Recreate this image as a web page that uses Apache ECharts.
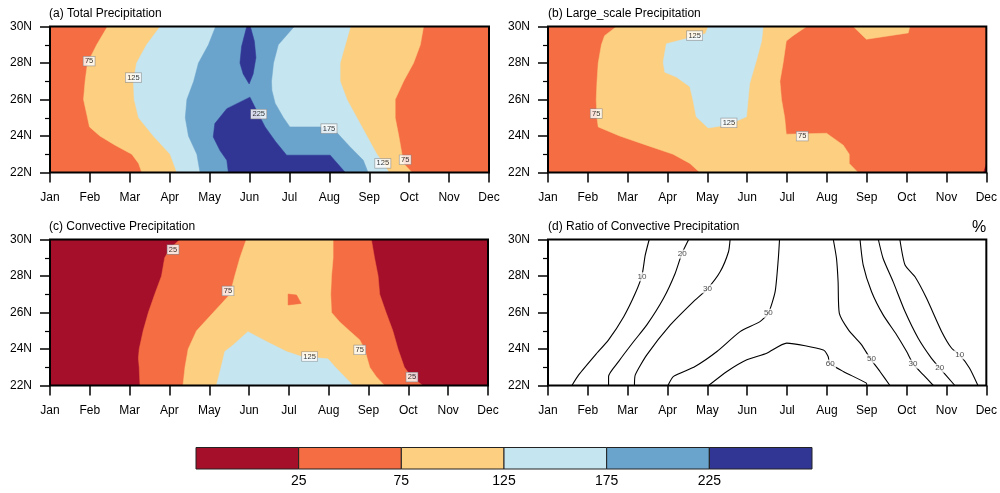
<!DOCTYPE html>
<html>
<head>
<meta charset="utf-8">
<script src="https://cdn.jsdelivr.net/npm/echarts@6/dist/echarts.min.js"></script>
<style>
  html, body { margin: 0; padding: 0; background: #fff; }
  #chart { width: 1000px; height: 493px; }
</style>
</head>
<body>
<div id="chart"></div>
<script>
const months = ['Jan', 'Feb', 'Mar', 'Apr', 'May', 'Jun', 'Jul', 'Aug', 'Sep', 'Oct', 'Nov', 'Dec'];
const levels = [25, 75, 125, 175, 225];
const palette = ['#a50f2a', '#f46d43', '#fdcf80', '#c5e5f0', '#6aa3cb', '#313695'];

// contour boundaries, [month index, latitude] (top -> bottom)
// (a) total precipitation
const a75L = [[1.44,30],[1.17,29],[0.94,28],[0.88,27],[0.84,26],[0.94,25],[0.99,24.5],[1.25,24],[1.63,23.5],[2.05,23],[2.22,22.5],[2.30,22]];
const a75R = [[9.36,30],[9.28,29],[9.11,28],[8.86,27],[8.65,26],[8.65,25],[8.74,24],[8.82,23],[8.86,22.5],[9.07,22]];
const a125L = [[2.76,30],[2.42,29],[2.17,28],[2.09,27],[2.11,26],[2.22,25],[2.59,24],[3.01,23],[3.18,22]];
const a125R = [[7.53,30],[7.40,29],[7.27,28],[7.27,27],[7.44,26],[7.69,25],[7.94,24],[8.19,23],[8.36,22.5],[8.49,22]];
const a175L = [[4.15,30],[3.97,29],[3.72,28],[3.60,27],[3.43,26],[3.39,25],[3.47,24],[3.68,23],[3.76,22]];
const a175R = [[6.12,30],[5.72,29],[5.6,28],[5.55,27],[5.56,26.5],[5.64,25.8],[5.85,25],[6.01,24.5],[6.76,24.5],[7.14,24.3],[7.52,23.4],[7.85,22.67],[7.97,22]];
const a225Top = [[4.93,30],[5.02,30],[5.12,29.2],[5.16,28.3],[5.09,27.4],[4.99,26.85],[4.84,27.4],[4.76,28],[4.8,28.9]];
const a225Bot = [[5.01,26.13],[5.2,25.3],[5.39,24.5],[5.65,23.7],[5.93,22.95],[7.02,22.95],[7.4,22],[4.47,22],[4.43,22.67],[4.26,23.2],[4.09,23.95],[4.13,24.68],[4.43,25.5]];
const aLabels = [[0.98,28.1,'75'],[2.09,27.2,'125'],[5.23,25.2,'225'],[6.99,24.4,'175'],[8.34,22.5,'125'],[8.9,22.7,'75']];

// (b) large-scale precipitation
const b75L = [[1.72,30],[1.42,29.5],[1.34,29],[1.26,28],[1.23,27],[1.21,26],[1.23,25],[1.26,24.5],[1.80,24],[2.47,23.5],[3.14,23],[3.56,22.5],[3.81,22]];
const b75R = [[6.49,30],[6.15,29.5],[5.98,29.2],[5.9,28],[5.82,27],[5.86,26],[5.94,25],[5.98,24.1],[6.99,24.15],[7.41,23.5],[7.56,23],[7.56,22.5],[7.78,22]];
const b75Top = [[7.66,30],[7.99,29.3],[9.04,29.65],[9.08,30]];
const b125 = [[4.02,30],[3.95,29.6],[2.97,29.05],[2.89,28.05],[2.93,27.5],[3.22,27.23],[3.56,26.7],[3.64,25.96],[3.72,25.05],[4.02,24.44],[4.5,24.6],[4.98,25.05],[5.02,25.96],[5.06,26.87],[5.23,28.14],[5.36,29.2],[5.4,30]];
const b25Dot = [[10.93,22],[11,22],[11,22.45]];
const bLabels = [[3.68,29.5,'125'],[1.21,25.23,'75'],[4.54,24.72,'125'],[6.38,23.99,'75']];

// (c) convective precipitation
const c25L = [[3.26,30],[3.01,29.5],[2.88,29],[2.80,28],[2.63,27],[2.47,26],[2.34,25],[2.24,24],[2.22,23.5],[2.24,23],[2.26,22]];
const c25R = [[8.07,30],[8.15,29],[8.24,28],[8.28,27],[8.44,26],[8.61,25],[8.74,24],[8.9,23],[9.07,22.5],[9.36,22]];
const c75L = [[4.93,30],[4.77,29],[4.64,28],[4.52,27],[4.31,26.5],[4.10,26],[3.68,25],[3.47,24],[3.43,23.5],[3.39,23],[3.34,22]];
const c75R = [[7.11,30],[7.11,29],[7.07,28],[7.05,27],[7.07,26],[7.27,25.5],[7.52,25],[7.78,24.5],[7.9,24],[8.03,23],[8.19,22.5],[8.40,22]];
const c75Hole = [[5.98,27.01],[6.19,26.96],[6.31,26.5],[5.98,26.41]];
const c125 = [[4.18,22],[4.31,23.13],[4.39,23.86],[4.6,24.22],[4.97,24.95],[5.52,24.32],[5.94,23.86],[6.31,23.59],[6.98,23.46],[7.15,23.04],[7.61,22]];
const cLabels = [[3.09,29.45,'25'],[4.47,27.18,'75'],[6.52,23.59,'125'],[7.78,23.95,'75'],[9.09,22.46,'25']];

// (d) ratio of convective precipitation (%), contour lines
const d10L = [[0.6,22],[0.77,22.58],[1.19,23.68],[1.52,24.5],[1.9,25.77],[2.19,27.05],[2.36,28.05],[2.44,29.14],[2.54,30]];
const d20L = [[1.52,22],[1.52,22.5],[1.77,23.31],[2.15,24.41],[2.48,25.32],[2.9,26.78],[3.19,28.14],[3.36,29.23],[3.53,30]];
const d30L = [[2.17,22],[2.19,22.58],[2.48,23.68],[3.07,25.32],[3.65,26.6],[4.0,27.3],[4.32,28.23],[4.53,29.33],[4.57,30]];
const d50L = [[3.01,22],[3.15,22.5],[3.69,23.04],[4.24,23.86],[4.82,24.95],[5.32,25.5],[5.53,25.96],[5.7,27.14],[5.78,28.96],[5.81,30]];
const d60 = [[4.03,22],[4.49,22.77],[4.99,23.41],[5.49,23.77],[5.99,24.32],[6.91,23.95],[7.03,23.59],[7.07,23.22],[7.41,22.77],[7.99,22.13],[8.0,22]];
const d50R = [[7.16,30],[7.24,28.96],[7.28,27.69],[7.31,25.96],[7.54,25.05],[7.87,24.23],[8.08,23.5],[8.33,22.77],[8.58,22]];
const d30R = [[7.83,30],[7.91,28.6],[8.12,27.14],[8.41,25.87],[8.75,24.77],[9.0,23.86],[9.17,23.17],[9.42,22.58],[9.67,22]];
const d20R = [[8.29,30],[8.41,28.96],[8.66,27.69],[8.96,26.05],[9.29,24.59],[9.62,23.5],[9.83,22.95],[10.21,22]];
const d10R = [[8.83,30],[8.96,28.6],[9.21,27.96],[9.5,26.78],[9.88,24.95],[10.13,24.04],[10.33,23.68],[10.58,22.95],[10.79,22]];
const dLabels = [[2.36,27.96,'10'],[3.37,29.2,'20'],[4.0,27.3,'30'],[5.53,25.96,'50'],[7.08,23.17,'60'],[8.12,23.46,'50'],[9.16,23.17,'30'],[9.83,22.95,'20'],[10.33,23.68,'10']];

const FONT = '"Liberation Sans", Arial, Helvetica, sans-serif';

// left boundary (top->bottom) + right boundary (bottom->top)
function band(left, right) {
    return left.concat(right.slice().reverse());
}

function baseSeries(g, color) {
    return {
        type: 'custom', xAxisIndex: g, yAxisIndex: g, silent: true, z: 1,
        data: [0],
        renderItem: function (params) {
            const r = params.coordSys;
            return { type: 'rect', shape: { x: r.x, y: r.y, width: r.width, height: r.height }, style: { fill: color } };
        }
    };
}

function polySeries(g, pts, color) {
    return {
        type: 'custom', xAxisIndex: g, yAxisIndex: g, silent: true, z: 2,
        data: [0],
        renderItem: function (params, api) {
            return {
                type: 'polygon',
                shape: { points: pts.map(function (p) { return api.coord(p); }) },
                style: { fill: color, stroke: color, lineWidth: 0.5 }
            };
        }
    };
}

function lineSeries(g, pts) {
    return {
        type: 'line', xAxisIndex: g, yAxisIndex: g, silent: true, z: 2,
        data: pts, symbol: 'none', smooth: 0.2,
        lineStyle: { color: '#000', width: 1.1 }
    };
}

function labelSeries(g, items, boxed) {
    return {
        type: 'scatter', xAxisIndex: g, yAxisIndex: g, silent: true, z: 4,
        data: items, symbolSize: 0,
        label: {
            show: true, position: 'inside',
            formatter: function (p) { return p.value[2]; },
            fontFamily: FONT, fontSize: boxed ? 7.5 : 8,
            color: boxed ? '#000' : '#222',
            backgroundColor: '#fff',
            borderColor: boxed ? '#888' : 'transparent',
            borderWidth: boxed ? 0.6 : 0,
            padding: [1, 1.5, 0, 1.5]
        }
    };
}

const gridPos = [
    { left: 50, top: 26.5, width: 439, height: 146 },
    { left: 548, top: 26.5, width: 439, height: 146 },
    { left: 50, top: 239.5, width: 438, height: 146 },
    { left: 548, top: 239.5, width: 439, height: 146 }
];

const grids = gridPos.map(function (p) {
    return Object.assign({ show: true, z: 10, backgroundColor: 'transparent', borderColor: '#000', borderWidth: 2 }, p);
});
grids.push({ left: 196, top: 447.5, width: 616, height: 21.5 });

const xAxes = gridPos.map(function (p, i) {
    return {
        type: 'value', gridIndex: i, min: 0, max: 11, interval: 1,
        axisLine: { show: false },
        axisTick: { show: true, inside: false, length: 10, lineStyle: { color: '#000', width: 1.5 } },
        axisLabel: { formatter: function (v) { return months[v]; }, margin: 19, fontFamily: FONT, fontSize: 12, color: '#000' },
        splitLine: { show: false }
    };
});
const yAxes = gridPos.map(function (p, i) {
    return {
        type: 'value', gridIndex: i, min: 22, max: 30, interval: 2,
        axisLine: { show: false },
        axisTick: { show: true, inside: false, length: 10, lineStyle: { color: '#000', width: 1.5 } },
        minorTick: { show: true, splitNumber: 2, length: 5, lineStyle: { color: '#000', width: 1.2 } },
        axisLabel: { formatter: function (v) { return v + 'N'; }, margin: 18, fontFamily: FONT, fontSize: 12, color: '#000', padding: [3, 0, 0, 0] },
        splitLine: { show: false }
    };
});

// colour bar
xAxes.push({
    type: 'value', gridIndex: 4, min: 0, max: palette.length, interval: 1,
    axisLine: { show: false }, axisTick: { show: false }, splitLine: { show: false },
    axisLabel: {
        formatter: function (v) { return levels[v - 1] !== undefined ? String(levels[v - 1]) : ''; },
        margin: 5, fontFamily: FONT, fontSize: 14, color: '#000'
    }
});
yAxes.push({ type: 'value', gridIndex: 4, min: 0, max: 1, show: false });

const series = [
    // (a)
    baseSeries(0, palette[1]),
    polySeries(0, band(a75L, a75R), palette[2]),
    polySeries(0, band(a125L, a125R), palette[3]),
    polySeries(0, band(a175L, a175R), palette[4]),
    polySeries(0, a225Top, palette[5]),
    polySeries(0, a225Bot, palette[5]),
    labelSeries(0, aLabels, true),
    // (b)
    baseSeries(1, palette[1]),
    polySeries(1, band(b75L, b75R), palette[2]),
    polySeries(1, b75Top, palette[2]),
    polySeries(1, b125, palette[3]),
    polySeries(1, b25Dot, palette[0]),
    labelSeries(1, bLabels, true),
    // (c)
    baseSeries(2, palette[0]),
    polySeries(2, band(c25L, c25R), palette[1]),
    polySeries(2, band(c75L, c75R), palette[2]),
    polySeries(2, c75Hole, palette[1]),
    polySeries(2, c125, palette[3]),
    labelSeries(2, cLabels, true),
    // (d)
    lineSeries(3, d10L), lineSeries(3, d20L), lineSeries(3, d30L), lineSeries(3, d50L),
    lineSeries(3, d60), lineSeries(3, d50R), lineSeries(3, d30R), lineSeries(3, d20R), lineSeries(3, d10R),
    labelSeries(3, dLabels, false),
    // colour bar boxes
    {
        type: 'custom', xAxisIndex: 4, yAxisIndex: 4, silent: true,
        data: palette.map(function (c, i) { return i; }),
        renderItem: function (params, api) {
            const i = api.value(0);
            const p0 = api.coord([i, 1]);
            const p1 = api.coord([i + 1, 0]);
            return {
                type: 'rect',
                shape: { x: p0[0], y: p0[1], width: p1[0] - p0[0], height: p1[1] - p0[1] },
                style: { fill: palette[i], stroke: '#222', lineWidth: 1 }
            };
        }
    }
];

const titleStyle = { fontFamily: FONT, fontSize: 12, fontWeight: 'normal', color: '#000' };
const option = {
    animation: false,
    backgroundColor: '#fff',
    title: [
        { text: '(a) Total Precipitation', left: 49, top: 8, padding: 0, textStyle: titleStyle },
        { text: '(b) Large_scale Precipitation', left: 548, top: 8, padding: 0, textStyle: titleStyle },
        { text: '(c) Convective Precipitation', left: 49, top: 221, padding: 0, textStyle: titleStyle },
        { text: '(d) Ratio of Convective Precipitation', left: 548, top: 221, padding: 0, textStyle: titleStyle },
        { text: '%', left: 972, top: 220, padding: 0, textStyle: { fontFamily: FONT, fontSize: 16, fontWeight: 'normal', color: '#000' } }
    ],
    grid: grids,
    xAxis: xAxes,
    yAxis: yAxes,
    series: series
};

const chart = echarts.init(document.getElementById('chart'));
chart.setOption(option);
window.addEventListener('resize', function () { chart.resize(); });
</script>
</body>
</html>
